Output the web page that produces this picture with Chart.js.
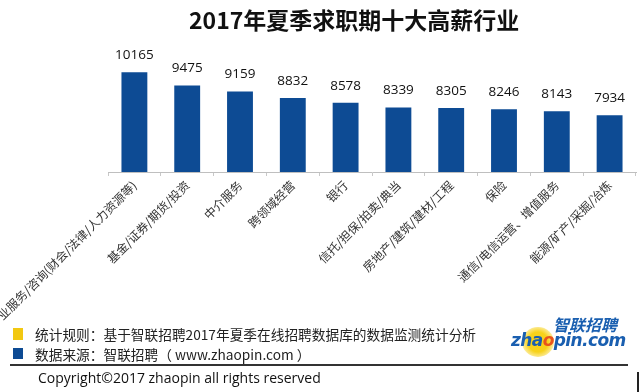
<!DOCTYPE html>
<html>
<head>
<meta charset="utf-8">
<script src="https://cdn.jsdelivr.net/npm/chart.js@4/dist/chart.umd.min.js"></script>
<style>
  html, body { margin: 0; padding: 0; background: #fff; }
  #wrap { position: relative; width: 640px; height: 392px; overflow: hidden; }
  #chartBox { position: absolute; left: 0; top: 0; width: 640px; height: 322px; }
  .title { position: absolute; left: 189px; top: 2px; font: bold 23px "Noto Sans CJK SC", sans-serif; color: #111; white-space: nowrap; }
  .sq { position: absolute; width: 10px; height: 12px; }
  .note { position: absolute; left: 35px; font: 13.7px "Noto Sans CJK SC", sans-serif; color: #222; line-height: 16px; white-space: nowrap; }
  .rule { position: absolute; left: 10px; top: 364px; width: 618px; height: 2px; background: #333; }
  .copy { position: absolute; left: 38px; top: 369px; font: 14px "Open Sans", sans-serif; color: #111; line-height: 18px; white-space: nowrap; }
  .vbar { position: absolute; left: 637px; top: 372px; width: 2px; height: 20px; background: #222; }
  .logoDot { position: absolute; left: 522px; top: 327px; width: 32px; height: 30px; border-radius: 50%; background: radial-gradient(circle, #f7d21a 45%, rgba(247,210,26,0.35) 75%, rgba(255,255,255,0) 100%); }
  .logoCn { position: absolute; left: 553px; top: 315px; font: italic bold 16px "Noto Sans CJK SC", sans-serif; color: #1a5fb0; line-height: 18px; letter-spacing: 0px; }
  .logoEn { position: absolute; left: 511px; top: 331px; font: italic bold 17px "DejaVu Sans", sans-serif; color: #1a5fb0; line-height: 18px; letter-spacing: -0.6px; }
  .logoEn span { color: #e8541c; }
</style>
</head>
<body>
<div id="wrap">
  <div id="chartBox"><canvas id="chart"></canvas></div>
  <div class="title" id="title"></div>

  <div class="sq" style="left:13px; top:328px; background:#f2c811;"></div>
  <div class="note" style="top:326px;" id="note1"></div>
  <div class="sq" style="left:13px; top:348px; height:11px; background:#0d4b94;"></div>
  <div class="note" style="top:346px;" id="note2"></div>

  <div class="logoDot"></div>
  <div class="logoCn">智联招聘</div>
  <div class="logoEn">zha<span>o</span>pin.com</div>

  <div class="rule"></div>
  <div class="copy">Copyright©2017 zhaopin all rights reserved</div>
  <div class="vbar"></div>
</div>
<script>
const TITLE = "2017年夏季求职期十大高薪行业";
const INDUSTRIES = [
  "专业服务/咨询(财会/法律/人力资源等)",
  "基金/证券/期货/投资",
  "中介服务",
  "跨领域经营",
  "银行",
  "信托/担保/拍卖/典当",
  "房地产/建筑/建材/工程",
  "保险",
  "通信/电信运营、增值服务",
  "能源/矿产/采掘/冶炼"
];
const SALARY = [10165, 9475, 9159, 8832, 8578, 8339, 8305, 8246, 8143, 7934];
const NOTE_RULE = "统计规则：基于智联招聘2017年夏季在线招聘数据库的数据监测统计分析";
const NOTE_SOURCE = "数据来源：智联招聘（ www.zhaopin.com ）";

const BAR_COLOR = "#0d4b94";

document.getElementById("title").innerText = TITLE;
document.getElementById("note1").innerText = NOTE_RULE;
document.getElementById("note2").innerText = NOTE_SOURCE;

// value labels above each bar
const valueLabels = {
  id: "valueLabels",
  afterDatasetsDraw(chart) {
    const ctx = chart.ctx;
    const meta = chart.getDatasetMeta(0);
    ctx.save();
    ctx.font = "13.5px 'Open Sans', sans-serif";
    ctx.fillStyle = "#111";
    ctx.textAlign = "center";
    ctx.textBaseline = "middle";
    meta.data.forEach((bar, i) => {
      ctx.fillText(String(SALARY[i]), bar.x, bar.y - 17);
    });
    ctx.restore();
  }
};

const ctx = document.getElementById("chart").getContext("2d");
new Chart(ctx, {
  type: "bar",
  data: {
    labels: INDUSTRIES,
    datasets: [{
      data: SALARY,
      backgroundColor: BAR_COLOR,
      categoryPercentage: 1.0,
      barPercentage: 0.49
    }]
  },
  options: {
    responsive: true,
    maintainAspectRatio: false,
    animation: false,
    layout: { padding: { top: 56, left: 108, right: 4, bottom: 0 } },
    plugins: {
      legend: { display: false },
      tooltip: { enabled: false }
    },
    scales: {
      x: {
        grid: {
          offset: true,
          drawOnChartArea: false,
          tickLength: 4,
          color: "#c8c8c8"
        },
        border: { color: "#bfbfbf", width: 1 },
        ticks: {
          autoSkip: false,
          minRotation: 45,
          maxRotation: 45,
          padding: 2,
          color: "#333",
          font: { family: "'Noto Sans CJK SC', sans-serif", size: 12 }
        },
        afterFit: (scale) => {
          // keep the plot where the original sits; long first label runs off the left edge
          scale.paddingLeft = 0;
          scale.paddingRight = 0;
          scale.height = 150;
        }
      },
      y: {
        display: false,
        min: 5000,
        max: 11000
      }
    }
  },
  plugins: [valueLabels]
});
</script>
</body>
</html>
